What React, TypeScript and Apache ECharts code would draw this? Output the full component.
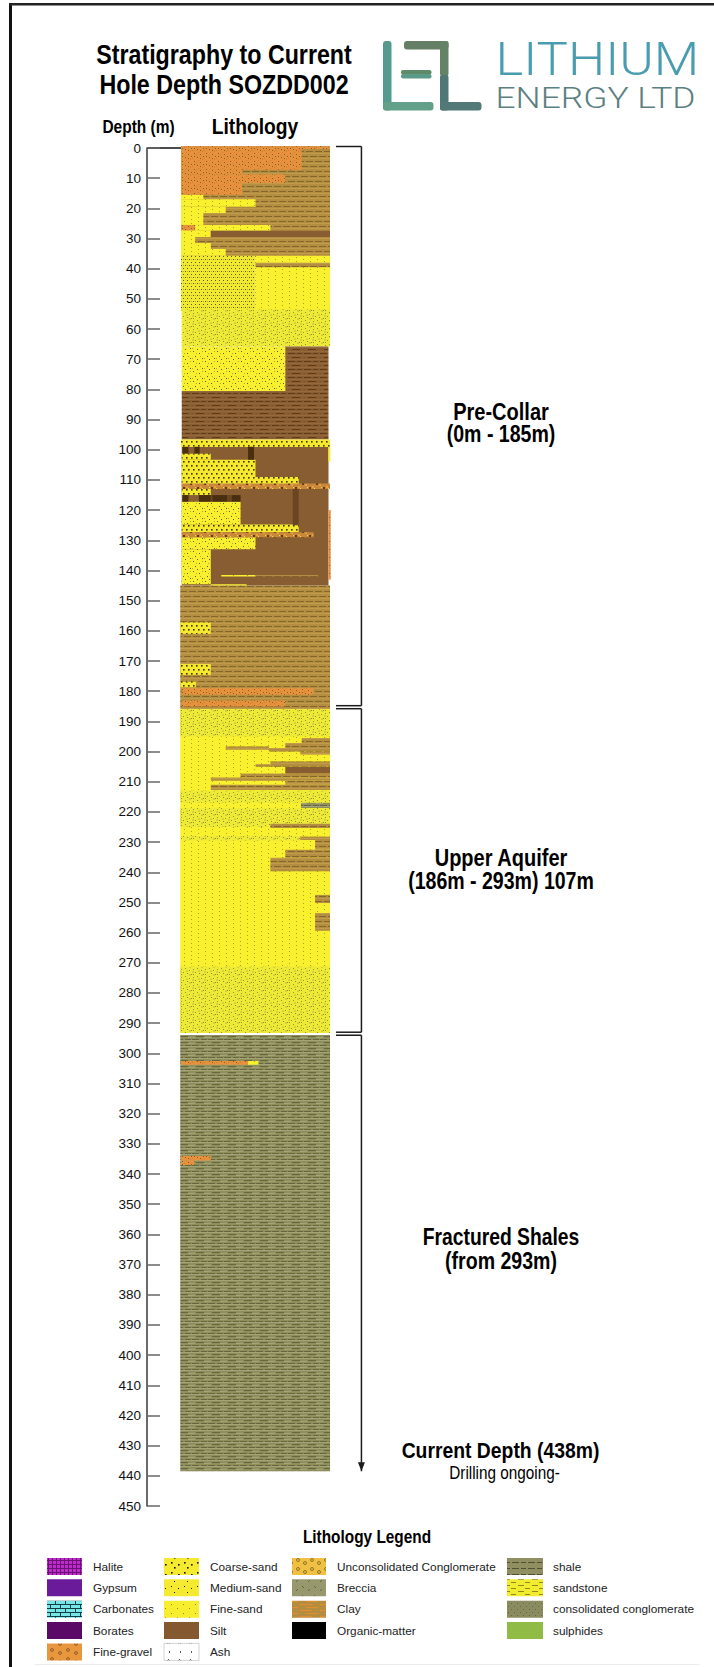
import React, { useEffect, useRef } from "react";
import * as echarts from "echarts";

type Interval = [number, number, number, number]; // top depth, bottom depth, from %, to % of column width

const depthMin = 0;
const depthMax = 450;
const depthStep = 10;

const clayBase: Interval[] = [[-0.6, 36, 0, 100], [145, 186, -0.5, 100]];
const siltPlain: Interval[] = [[99, 145, 0.5, 99]];
const siltDashedBase: Interval[] = [[80.5, 96.6, 0.5, 99]];
const shale: Interval[] = [[293.9, 438.5, -0.5, 100]];
const fineSand: Interval[] = [
  [15.5, 17, 0, 15], [17, 19.5, 0, 50], [19.5, 21.5, 0, 30], [21.5, 25.5, 0, 15], [25.5, 27.4, 0, 60],
  [27.4, 29.5, 0, 20], [29.5, 31.5, 0, 9.5], [31.5, 33.5, 0, 20], [33.5, 35.7, 0, 30], [35.7, 54, 50, 100],
  [186, 293.3, -0.5, 100], [141.5, 142, 27, 50], [302.5, 303.8, 45, 52], [99, 104, 99, 100.3], [144.6, 145, 20, 44],
];
const mediumSand: Interval[] = [
  [65.8, 80.5, 0.5, 70], [117.2, 124.8, 0.5, 40], [129, 133, 0.5, 50], [133, 144.6, 0.5, 20],
];
const denseSand: Interval[] = [[35.7, 54, 0, 50]];
const coarseSand: Interval[] = [
  [96.6, 99.1, 0, 100], [101.3, 103.3, 0.5, 20], [103.3, 109, 0.5, 50], [109, 111.3, 0.5, 79], [113, 115, 0.5, 20],
  [124.8, 127.3, 0.5, 79], [157.2, 161, -0.5, 20], [171, 174.6, -0.5, 20], [176.8, 178.7, -0.5, 10],
];
const sandstone: Interval[] = [
  [53.5, 65.8, 0.5, 100], [186, 195, -0.5, 100], [213, 217, -0.5, 100], [218.7, 225, -0.5, 100],
  [228, 229.5, 0, 80], [271.3, 293.3, -0.5, 100],
];
const clayBands: Interval[] = [
  [38, 39.5, 50, 100], [141.5, 142, 50, 92], [195.5, 197.2, 81, 100], [197.2, 198.8, 70, 100], [198.3, 199.4, 30, 59],
  [198.8, 200, 59, 100], [200, 201, 80, 100], [203.3, 205, 60, 100], [204.2, 205, 50, 60], [207.3, 208.6, 40, 100],
  [208.6, 209.7, 20, 100], [209.7, 211, 70, 100], [211, 212.7, 20, 100], [223.9, 225.3, 60, 100], [228.2, 229.3, 80, 100],
  [229.3, 232.5, 90, 100], [232.5, 235.2, 70, 100], [235.2, 239.7, 60, 100], [247.5, 250.2, 90, 100], [253.5, 259.4, 90, 100],
];
const siltBands: Interval[] = [[27.4, 29.5, 20, 100], [205.1, 207.3, 70, 100]];
const siltDashedBands: Interval[] = [[65.8, 80.5, 70, 99]];
const shaleBands: Interval[] = [[217, 218.7, 80.5, 100]];
const darkSilt: Interval[] = [[113, 125, 75, 79], [115, 117.2, 20, 21], [115, 117.2, 31, 34]];
const organicStains: Interval[] = [
  [99, 101.2, 1, 5], [99, 101.2, 9, 12.5], [99, 103.3, 45, 49], [115, 117.2, 1, 5], [115, 117.2, 12, 20],
  [115, 117.2, 21, 31], [115, 117.2, 34, 40],
];
const fineGravel: Interval[] = [
  [-0.6, 0.3, 0, 100], [0.3, 7.2, 0, 81], [7.2, 8.8, 0, 41], [8.8, 11.6, 0, 70], [11.6, 15.5, 0, 41],
  [25.5, 27.3, 0, 9.5], [179, 181.2, 0.5, 89], [183.1, 185.1, 0.5, 70],
  [302.5, 303.8, 0, 45], [334, 335.5, 0, 20], [335.5, 337, 0, 9], [120, 143, 99, 100.5],
];
const mottledGravel: Interval[] = [[111.2, 113, 0.5, 100], [127.3, 129, 0.5, 89]];

const bracketSpans: [number, number][] = [[0, 184.8], [185.8, 293], [294, 438.5]];

const legendColumns: string[][] = [
  ["Halite", "Gypsum", "Carbonates", "Borates", "Fine-gravel"],
  ["Coarse-sand", "Medium-sand", "Fine-sand", "Silt", "Ash"],
  ["Unconsolidated Conglomerate", "Breccia", "Clay", "Organic-matter"],
  ["shale", "sandstone", "consolidated conglomerate", "sulphides"],
];

const SANS = '"Liberation Sans", Arial, sans-serif';
const ROBOTO = '"Roboto", sans-serif';

function tile(w: number, h: number, bg: string, draw: (c: CanvasRenderingContext2D) => void) {
  const canvas = document.createElement("canvas");
  canvas.width = w;
  canvas.height = h;
  const c = canvas.getContext("2d")!;
  c.fillStyle = bg;
  c.fillRect(0, 0, w, h);
  draw(c);
  return { image: canvas, repeat: "repeat" as const, imageWidth: w, imageHeight: h };
}

function dots(c: CanvasRenderingContext2D, color: string, size: number, pts: number[][]) {
  c.fillStyle = color;
  pts.forEach(([x, y]) => c.fillRect(x, y, size, size));
}

function dashes(c: CanvasRenderingContext2D, color: string, rows: number[][]) {
  c.fillStyle = color;
  rows.forEach(([x, y, w, h]) => c.fillRect(x, y, w, h));
}

function rings(c: CanvasRenderingContext2D, color: string, pts: number[][]) {
  c.strokeStyle = color;
  c.lineWidth = 0.8;
  pts.forEach(([x, y, r]) => {
    c.beginPath();
    c.arc(x, y, r, 0, Math.PI * 2);
    c.stroke();
  });
}

function buildPatterns() {
  const clay = tile(18, 10, "#b38e40", (c) => {
    dashes(c, "#84652a", [[0, 1, 7, 1], [9, 1, 7, 1], [4, 6, 7, 1], [13, 6, 5, 1], [0, 6, 2, 1]]);
    dashes(c, "#c09b4c", [[0, 3, 18, 1], [0, 8, 18, 1]]);
  });
  const silt = tile(10, 10, "#875d31", () => {});
  const siltDashed = tile(16, 8, "#875d31", (c) => {
    dashes(c, "#5f3d1b", [[0, 1, 7, 1], [9, 1, 5, 1], [4, 5, 8, 1]]);
    dashes(c, "#96693a", [[0, 3, 16, 1], [0, 7, 16, 1]]);
  });
  const shaleFill = tile(16, 6, "#8f8f5c", (c) => {
    dashes(c, "#666741", [[0, 1, 7, 1], [9, 1, 6, 1], [4, 4, 8, 1]]);
    dashes(c, "#a3a377", [[0, 2, 16, 1], [0, 5, 3, 1], [12, 5, 4, 1]]);
  });
  const fine = tile(14, 12, "#f9f12e", (c) => {
    dots(c, "#aaa425", 1, [[2, 1], [2, 5], [2, 9], [9, 3], [9, 7], [9, 11]]);
  });
  const medium = tile(12, 10, "#f8ef2e", (c) => {
    dots(c, "#5e5a18", 1, [[1, 1], [7, 3], [3, 6], [10, 8], [5, 9]]);
    dots(c, "#b4ae26", 1, [[4, 3], [10, 1], [8, 6], [0, 8]]);
  });
  const dense = tile(8, 6, "#f0e92f", (c) => {
    dots(c, "#5a5718", 1, [[1, 1], [5, 1], [3, 4], [7, 4]]);
    dots(c, "#b8b32a", 1, [[3, 1], [7, 1]]);
  });
  const coarse = tile(10, 8, "#f6e92c", (c) => {
    dots(c, "#3a3612", 1.6, [[1, 1], [6, 1], [3, 5], [8, 5]]);
  });
  const sand2 = tile(12, 8, "#eeea36", (c) => {
    dots(c, "#92922a", 1, [[1, 1], [5, 0], [9, 2], [3, 4], [7, 5], [11, 6], [1, 6]]);
    dots(c, "#d4d23c", 2, [[6, 2], [0, 3], [9, 6]]);
  });
  const gravel = tile(12, 8, "#e8913c", (c) => {
    dots(c, "#80602a", 1, [[2, 1], [2, 4], [8, 2], [8, 6], [5, 5], [11, 4]]);
    dots(c, "#c97f34", 1, [[4, 3], [10, 7], [0, 6], [6, 0]]);
  });
  const mottled = tile(14, 6, "#c9873a", (c) => {
    dots(c, "#5c3d18", 2, [[1, 1], [8, 3]]);
    dots(c, "#e8a040", 2, [[4, 0], [11, 4]]);
    dots(c, "#f0e040", 1, [[6, 2], [13, 1]]);
  });
  const solid = (col: string) => tile(4, 4, col, () => {});

  const legend: Record<string, any> = {
    Halite: tile(8, 8, "#c02ccc", (c) => {
      dashes(c, "#6b1276", [[0, 0, 8, 1], [0, 4, 8, 1], [0, 0, 1, 8], [4, 0, 1, 8]]);
    }),
    Gypsum: solid("#6a1b9a"),
    Carbonates: tile(20, 8, "#74e6e6", (c) => {
      dashes(c, "#123c44", [[0, 0, 20, 1], [0, 4, 20, 1], [5, 0, 1, 4], [15, 0, 1, 4], [10, 4, 1, 4], [0, 4, 1, 4]]);
    }),
    Borates: solid("#5a0a66"),
    "Fine-gravel": tile(16, 9, "#e8973f", (c) => rings(c, "#7c5220", [[4, 3, 1.4], [12, 6, 1.4]])),
    "Coarse-sand": tile(13, 10, "#f6ea30", (c) => dots(c, "#15150a", 1.6, [[2, 2], [9, 4], [5, 7]])),
    "Medium-sand": tile(13, 11, "#f6ea30", (c) => dots(c, "#15150a", 1, [[2, 2], [9, 4], [5, 8]])),
    "Fine-sand": tile(12, 9, "#f7ee2e", (c) => dots(c, "#8c8620", 1, [[3, 2], [9, 6]])),
    Silt: solid("#85592f"),
    Ash: tile(11, 17, "#ffffff", (c) => {
      dots(c, "#555555", 1, [[4, 2], [4, 3], [2, 11], [3, 10], [4, 11]]);
    }),
    "Unconsolidated Conglomerate": tile(14, 9, "#efc043", (c) => rings(c, "#7c6220", [[4, 3, 1.5], [11, 6, 1.5]])),
    Breccia: tile(12, 9, "#98986e", (c) => dots(c, "#66664a", 1, [[2, 2], [3, 3], [8, 6], [9, 5]])),
    Clay: tile(20, 6, "#b58c40", (c) => dashes(c, "#e0902a", [[0, 2, 12, 1], [6, 5, 12, 1]])),
    "Organic-matter": solid("#000000"),
    shale: tile(16, 6, "#8f8f62", (c) => dashes(c, "#4f5030", [[0, 2, 7, 1], [9, 2, 5, 1]])),
    sandstone: tile(14, 6, "#f2ec30", (c) => dashes(c, "#8f8a1e", [[0, 1, 6, 1], [7, 4, 5, 1]])),
    "consolidated conglomerate": tile(6, 6, "#8b8b60", (c) => dots(c, "#66664a", 1, [[1, 1], [4, 4]])),
    sulphides: solid("#90bb45"),
  };

  return {
    layers: [
      { name: "Clay", data: clayBase, fill: clay },
      { name: "Silt", data: siltPlain, fill: silt },
      { name: "Silt dashed", data: siltDashedBase, fill: siltDashed },
      { name: "shale", data: shale, fill: shaleFill },
      { name: "Fine-sand", data: fineSand, fill: fine },
      { name: "Medium-sand", data: mediumSand, fill: medium },
      { name: "Medium-sand dense", data: denseSand, fill: dense },
      { name: "Coarse-sand", data: coarseSand, fill: coarse },
      { name: "sandstone", data: sandstone, fill: sand2 },
      { name: "Clay bands", data: clayBands, fill: clay },
      { name: "Silt bands", data: siltBands, fill: silt },
      { name: "Silt dashed bands", data: siltDashedBands, fill: siltDashed },
      { name: "shale bands", data: shaleBands, fill: shaleFill },
      { name: "Silt dark", data: darkSilt, fill: solid("#6b4522") },
      { name: "Organic stains", data: organicStains, fill: solid("#4a2f0e") },
      { name: "Fine-gravel", data: fineGravel, fill: gravel },
      { name: "Fine-gravel mottled", data: mottledGravel, fill: mottled },
    ],
    legend,
  };
}

function label(
  text: string, x: number, y: number, size: number, weight: string,
  scaleX = 1, family = SANS, color = "#000", align = "center", lineHeight?: number,
) {
  return {
    type: "text",
    x,
    y,
    scaleX,
    silent: true,
    style: {
      text, fill: color, font: `${weight} ${size}px ${family}`, fontSize: size, fontWeight: weight, fontFamily: family,
      textAlign: align, textVerticalAlign: "middle", verticalAlign: "middle", lineHeight,
    },
  };
}

function bar(x: number, y: number, w: number, h: number, fill: string, r = 0) {
  return { type: "rect", silent: true, shape: { x, y, width: w, height: h, r }, style: { fill } };
}

export default function App() {
  const ref = useRef<HTMLDivElement>(null);

  useEffect(() => {
    document.body.style.margin = "0";
    const chart = echarts.init(ref.current!, undefined, { renderer: "svg" });
    const { layers, legend } = buildPatterns();

    const lithoSeries = layers.map((layer, i) => ({
      type: "custom",
      name: layer.name,
      data: layer.data,
      z: 2 + i,
      silent: true,
      encode: { x: [2, 3], y: [0, 1] },
      renderItem: (_: any, api: any) => {
        const a = api.coord([api.value(2), api.value(0)]);
        const b = api.coord([api.value(3), api.value(1)]);
        return {
          type: "rect",
          shape: { x: a[0], y: a[1], width: b[0] - a[0], height: b[1] - a[1] },
          style: { fill: layer.fill },
        };
      },
    }));

    const bracketX = 121.1;
    const stubX = 104;
    const ink = "#1c1c1c";
    const bracketSeries = {
      type: "custom",
      name: "Intervals",
      data: bracketSpans,
      z: 30,
      silent: true,
      encode: { y: [0, 1] },
      renderItem: (params: any, api: any) => {
        const idx = params.dataIndex;
        const top = api.coord([bracketX, api.value(0)]);
        const bot = api.coord([bracketX, api.value(1)]);
        const stubTop = api.coord([stubX, api.value(0)]);
        const stubBot = api.coord([stubX, api.value(1)]);
        const line = (x1: number, y1: number, x2: number, y2: number) => ({
          type: "line",
          shape: { x1, y1, x2, y2 },
          style: { stroke: ink, lineWidth: 1.5 },
        });
        const children: any[] = [
          line(top[0], top[1] - (idx === 0 ? 1.5 : 0), bot[0], bot[1]),
          line(stubTop[0], stubTop[1] - (idx === 0 ? 1.5 : 0), top[0], top[1] - (idx === 0 ? 1.5 : 0)),
        ];
        if (idx < bracketSpans.length - 1) {
          children.push(line(stubBot[0], bot[1], bot[0], bot[1]));
        } else {
          children.push({
            type: "polygon",
            shape: { points: [[bot[0] - 3.5, bot[1] - 9], [bot[0] + 3.5, bot[1] - 9], [bot[0], bot[1]]] },
            style: { fill: ink },
          });
        }
        return { type: "group", children };
      },
    };

    const legendItems: any[] = [];
    const colSwatchX = [47, 164, 292, 507];
    const colSwatchW = [35, 35, 34, 36];
    const colTextX = [93, 210, 337, 553];
    legendColumns.forEach((names, col) => {
      names.forEach((name, row) => {
        const y = 1558 + row * 21.35;
        legendItems.push({
          type: "rect",
          silent: true,
          shape: { x: colSwatchX[col], y, width: colSwatchW[col], height: 17 },
          style: { fill: legend[name], stroke: name === "Ash" ? "#b5b5b5" : undefined, lineWidth: 0.6 },
        });
        legendItems.push(label(name, colTextX[col], y + 8.5, 11.8, "normal", 1, SANS, "#222", "left"));
      });
    });

    const graphic = [
      bar(9, 3, 3, 1664, "#111"),
      bar(9, 3, 705, 2.5, "#222"),
      bar(35, 1664, 665, 1, "#ececec"),
      bar(147, 147.3, 34, 1.4, "#111"),
      label("Stratigraphy to Current", 224, 54, 28, "bold", 0.83),
      label("Hole Depth SOZDD002", 224, 84, 28, "bold", 0.83),
      label("Depth (m)", 138.5, 127, 18, "bold", 0.86),
      label("Lithology", 255, 126, 22, "bold", 0.875),
      // logo
      bar(383, 41, 8.5, 69.5, "#559a8e", 3),
      bar(383, 102, 50.5, 8.5, "#62a08a", 3),
      bar(404, 41, 44.5, 8.5, "#647f66", 3),
      bar(440, 41, 8.5, 35, "#648366", 2),
      bar(440, 75, 8.5, 35.5, "#4f7775", 2),
      bar(440, 102, 41.5, 8.5, "#527878", 3),
      bar(401, 70, 30.5, 4.5, "#5e8a68", 2),
      bar(401, 74, 30.5, 4.5, "#5a9a88", 2),
      label("LITHIUM", 495.5, 59, 47, "300", 1.12, ROBOTO, "#4a9db0", "left", 36),
      label("ENERGY LTD", 495.5, 98, 29, "300", 1.22, ROBOTO, "#5c8080", "left", 24),
      // annotations
      label("Pre-Collar", 501, 412, 23, "bold", 0.87),
      label("(0m - 185m)", 501, 434, 23, "bold", 0.85),
      label("Upper Aquifer", 501, 858, 23, "bold", 0.87),
      label("(186m - 293m) 107m", 501, 881, 23, "bold", 0.85),
      label("Fractured Shales", 501, 1237, 23, "bold", 0.84),
      label("(from 293m)", 501, 1261, 23, "bold", 0.85),
      label("Current Depth (438m)", 500.5, 1450, 22.5, "bold", 0.86),
      label("Drilling ongoing-", 504.5, 1473, 18, "normal", 0.85),
      label("Lithology Legend", 367, 1537, 18, "bold", 0.855),
      ...legendItems,
    ];

    chart.setOption({
      animation: false,
      backgroundColor: "#ffffff",
      grid: { left: 181, top: 148, width: 149, height: 1358, containLabel: false },
      xAxis: { type: "value", min: 0, max: 100, show: false },
      yAxis: {
        type: "value",
        inverse: true,
        min: depthMin,
        max: depthMax,
        interval: depthStep,
        offset: 34,
        position: "left",
        splitLine: { show: false },
        axisLine: { show: true, onZero: false, lineStyle: { color: "#3a3a3a", width: 1.5 } },
        axisTick: { show: true, inside: true, length: 13, lineStyle: { color: "#666", width: 1.5 } },
        axisLabel: { color: "#111", fontFamily: SANS, fontSize: 13.5, margin: 6 },
      },
      series: [...lithoSeries, bracketSeries],
      graphic,
    });
    return () => chart.dispose();
  }, []);

  return <div ref={ref} style={{ width: 714, height: 1667, overflow: "hidden" }} />;
}
